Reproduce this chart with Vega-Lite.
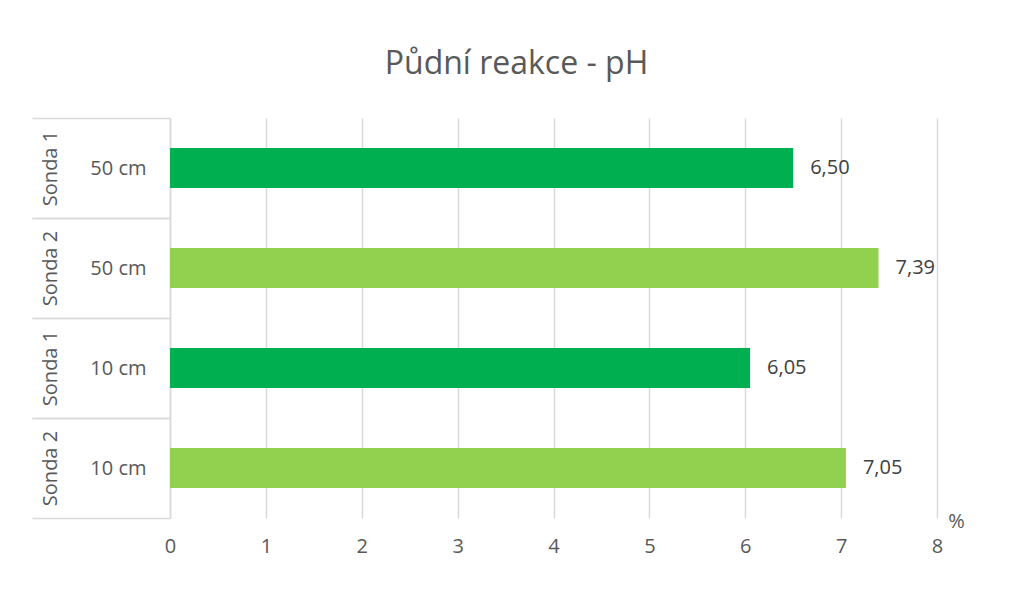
{
  "$schema": "https://vega.github.io/schema/vega-lite/v6.json",
  "width": 767,
  "height": 400,
  "autosize": "none",
  "padding": {"left": 170, "top": 118, "right": 74, "bottom": 88},
  "background": "white",
  "title": {
    "text": "Půdní reakce - pH",
    "anchor": "middle",
    "frame": "group",
    "dx": -37,
    "offset": 36,
    "fontSize": 32,
    "font": "Open Sans",
    "fontWeight": "normal",
    "color": "#595959"
  },
  "data": {
    "values": [
      {"key": "Sonda 1|50 cm", "sonda": "Sonda 1", "hloubka": "50 cm", "ph": 6.50},
      {"key": "Sonda 2|50 cm", "sonda": "Sonda 2", "hloubka": "50 cm", "ph": 7.39},
      {"key": "Sonda 1|10 cm", "sonda": "Sonda 1", "hloubka": "10 cm", "ph": 6.05},
      {"key": "Sonda 2|10 cm", "sonda": "Sonda 2", "hloubka": "10 cm", "ph": 7.05}
    ]
  },
  "encoding": {
    "y": {
      "field": "key",
      "type": "nominal",
      "sort": null,
      "scale": {"paddingInner": 0.6, "paddingOuter": 0.3}
    },
    "x": {
      "field": "ph",
      "type": "quantitative",
      "scale": {"domain": [0, 8], "nice": false},
      "axis": {
        "values": [0, 1, 2, 3, 4, 5, 6, 7, 8],
        "grid": true,
        "gridColor": "#d9d9d9",
        "gridWidth": 1.5,
        "domain": false,
        "ticks": false,
        "labelFont": "Open Sans",
        "labelFontSize": 20,
        "labelColor": "#595959",
        "labelPadding": 18,
        "labelFlush": false,
        "title": "%",
        "titleFont": "Open Sans",
        "titleFontSize": 20,
        "titleFontWeight": "normal",
        "titleColor": "#595959",
        "titleX": 786,
        "titleY": 3,
        "titleAlign": "center",
        "titleBaseline": "middle"
      }
    }
  },
  "layer": [
    {
      "mark": {"type": "bar"},
      "encoding": {
        "y": {
          "field": "key",
          "type": "nominal",
          "sort": null,
          "axis": {
            "orient": "left",
            "title": null,
            "labelExpr": "split(datum.value, '|')[1]",
            "tickSize": 138,
            "tickOffset": -50,
            "labelOffset": 50,
            "tickColor": "#d9d9d9",
            "tickWidth": 1.5,
            "domainColor": "#d9d9d9",
            "domainWidth": 1.5,
            "labelPadding": -114,
            "labelAlign": "right",
            "labelBaseline": "middle",
            "labelFont": "Open Sans",
            "labelFontSize": 20,
            "labelColor": "#595959",
            "labelOverlap": false
          }
        },
        "color": {
          "field": "sonda",
          "type": "nominal",
          "scale": {"domain": ["Sonda 1", "Sonda 2"], "range": ["#00B050", "#92D050"]},
          "legend": null
        }
      }
    },
    {
      "mark": {"type": "text", "align": "left", "baseline": "middle", "dx": 17, "font": "Open Sans", "fontSize": 20, "color": "#404040"},
      "encoding": {
        "y": {
          "field": "key",
          "type": "nominal",
          "sort": null,
          "axis": {
            "orient": "left",
            "title": null,
            "labelExpr": "split(datum.value, '|')[0]",
            "domain": false,
            "tickSize": 138,
            "tickOffset": 50,
            "labelOffset": -50,
            "tickColor": "#d9d9d9",
            "tickWidth": 1.5,
            "labelAngle": 270,
            "labelAlign": "center",
            "labelBaseline": "middle",
            "labelPadding": -18,
            "labelFont": "Open Sans",
            "labelFontSize": 20,
            "labelColor": "#595959",
            "labelOverlap": false
          }
        },
        "text": {"field": "ph", "type": "quantitative", "format": ".2f"}
      }
    }
  ],
  "resolve": {"axis": {"y": "independent"}},
  "config": {
    "locale": {
      "number": {"decimal": ",", "thousands": "\u00a0", "grouping": [3], "currency": ["", " Kč"]}
    },
    "view": {"stroke": null}
  }
}
